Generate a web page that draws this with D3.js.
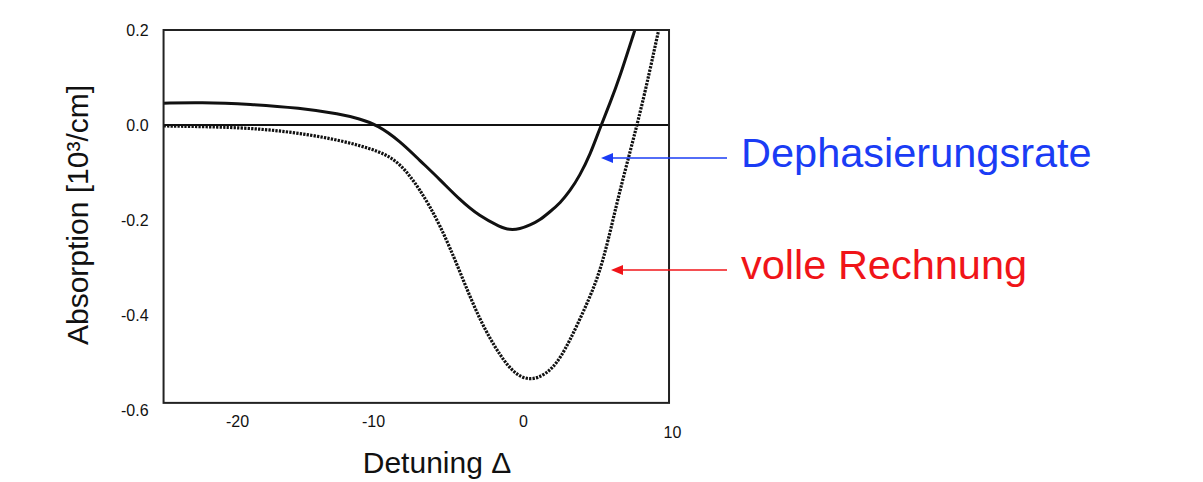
<!DOCTYPE html>
<html>
<head>
<meta charset="utf-8">
<script src="https://cdn.jsdelivr.net/npm/d3@7/dist/d3.min.js"></script>
<style>
  body { margin: 0; background: #fff; }
  svg { display: block; font-family: Arial, "Liberation Sans", sans-serif; }
</style>
</head>
<body>
<div id="canvas"></div>
<script>
"use strict"

// DATA

// Dephasierungsrate (solid line)
let solidDetuning   = [-25.4, -22.7, -19.0, -15.4, -12.4, -11.0, -9.7, -8.2, -6.9, -5.5, -4.2, -2.9, -1.5, -0.9, -0.2, 0.47, 1.14, 1.8, 2.5, 3.15, 3.8, 4.5, 5.17, 5.84, 6.5, 7.5, 8.0];
let solidAbsorption = [0.046, 0.048, 0.044, 0.036, 0.023, 0.013, 0.0, -0.034, -0.074, -0.116, -0.158, -0.192, -0.215, -0.221, -0.219, -0.211, -0.2, -0.183, -0.164, -0.139, -0.107, -0.063, -0.006, 0.046, 0.101, 0.2, 0.246];

// volle Rechnung (dotted line)
let fullDetuning   = [-25.4, -21.25, -18.3, -15.4, -12.4, -9.5, -8.2, -6.9, -5.5, -4.2, -2.9, -1.5, -0.5, 0.5, 1.5, 2.5, 3.8, 5.0, 5.7, 6.5, 7.7, 8.5, 9.1, 9.5];
let fullAbsorption = [-0.002, -0.004, -0.008, -0.017, -0.032, -0.055, -0.08, -0.133, -0.211, -0.309, -0.411, -0.488, -0.526, -0.538, -0.526, -0.495, -0.411, -0.326, -0.246, -0.137, 0.004, 0.112, 0.2, 0.253];

let xTicks = [-20, -10, 0, 10];
let yTicks = [0.2, 0.0, -0.2, -0.4, -0.6];
let xLimits = [-25.4, 9.8];
let yLimits = [-0.585, 0.2];


// CONFIGURATION

let svgWidth = 1203;
let svgHeight = 482;


// CREATE SVG

let svg = d3.select("#canvas")
    .append("svg")
    .attr("width", svgWidth)
    .attr("height", svgHeight);


// SCALES (tick labels in the figure are not evenly spaced)

let xScale = d3.scaleLinear()
    .domain(xTicks)
    .range([237, 373, 523, 672]);

let yScale = d3.scaleLinear()
    .domain([-0.6, 0.2])
    .range([410, 30]);

let plotLeft = xScale(xLimits[0]);
let plotRight = xScale(xLimits[1]);
let plotTop = yScale(yLimits[1]);
let plotBottom = yScale(yLimits[0]);


// CLIP

svg.append("clipPath")
    .attr("id", "plotClip")
    .append("rect")
    .attr("x", plotLeft)
    .attr("y", plotTop)
    .attr("width", plotRight - plotLeft)
    .attr("height", plotBottom - plotTop);


// ZERO LINE

svg.append("line")
    .attr("x1", plotLeft)
    .attr("x2", plotRight)
    .attr("y1", yScale(0))
    .attr("y2", yScale(0))
    .attr("stroke", "#111")
    .attr("stroke-width", 2);


// CURVES

let line = d3.line()
    .x(function(d) { return xScale(d[0]); })
    .y(function(d) { return yScale(d[1]); })
    .curve(d3.curveBasis);

svg.append("path")
    .datum(d3.zip(fullDetuning, fullAbsorption))
    .attr("clip-path", "url(#plotClip)")
    .attr("fill", "none")
    .attr("stroke", "#111")
    .attr("stroke-width", 3.2)
    .attr("stroke-dasharray", "2.3,1.2")
    .attr("d", line);

svg.append("path")
    .datum(d3.zip(solidDetuning, solidAbsorption))
    .attr("clip-path", "url(#plotClip)")
    .attr("fill", "none")
    .attr("stroke", "#111")
    .attr("stroke-width", 3)
    .attr("d", line);


// FRAME

svg.append("rect")
    .attr("x", plotLeft)
    .attr("y", plotTop)
    .attr("width", plotRight - plotLeft)
    .attr("height", plotBottom - plotTop)
    .attr("fill", "none")
    .attr("stroke", "#222")
    .attr("stroke-width", 2);


// AXES

let xAxis = svg.append("g")
    .attr("transform", "translate(0," + plotBottom + ")")
    .call(d3.axisBottom(xScale)
        .tickValues(xTicks)
        .tickSize(0)
        .tickPadding(13)
        .tickFormat(function(d) { return String(d); }));

let yAxis = svg.append("g")
    .attr("transform", "translate(" + plotLeft + ",0)")
    .call(d3.axisLeft(yScale)
        .tickValues(yTicks)
        .tickSize(0)
        .tickPadding(15)
        .tickFormat(function(d) { return d.toFixed(1); }));

[xAxis, yAxis].forEach(function(g) {
    g.select(".domain").remove();
    g.selectAll("text")
        .attr("fill", "#111")
        .style("font-size", "16px")
        .style("font-family", "Arial, 'Liberation Sans', sans-serif");
});

// the "10" sits lower in the figure
xAxis.selectAll(".tick text")
    .filter(function(d) { return d === 10; })
    .attr("y", 24);


// AXIS TITLES

svg.append("text")
    .attr("x", 437)
    .attr("y", 473)
    .attr("text-anchor", "middle")
    .attr("fill", "#111")
    .style("font-size", "30px")
    .text("Detuning \u0394");

svg.append("text")
    .attr("transform", "rotate(-90)")
    .attr("x", -215)
    .attr("y", 88)
    .attr("text-anchor", "middle")
    .attr("fill", "#111")
    .style("font-size", "30px")
    .text("Absorption [10\u00b3/cm]");


// ANNOTATIONS

let notes = [
    { label: "Dephasierungsrate", color: "#1a3cf5", tipX: 601, y: 158, textY: 167 },
    { label: "volle Rechnung", color: "#f01418", tipX: 611, y: 270, textY: 279 }
];

notes.forEach(function(n) {
    svg.append("line")
        .attr("x1", n.tipX + 10)
        .attr("x2", 727)
        .attr("y1", n.y)
        .attr("y2", n.y)
        .attr("stroke", n.color)
        .attr("stroke-width", 1.6);

    svg.append("path")
        .attr("d", "M" + n.tipX + "," + n.y + " l12,-5 l0,10 Z")
        .attr("fill", n.color);

    svg.append("text")
        .attr("x", 741)
        .attr("y", n.textY)
        .attr("fill", n.color)
        .style("font-size", "41.5px")
        .text(n.label);
});
</script>
</body>
</html>
